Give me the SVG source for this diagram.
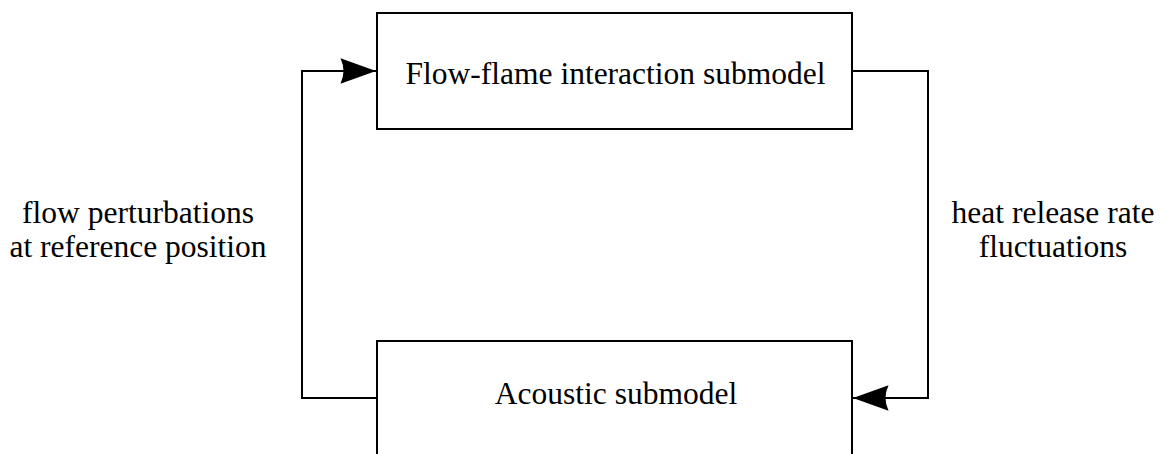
<svg xmlns="http://www.w3.org/2000/svg" width="1162" height="454" viewBox="0 0 1162 454">
  <style>
    .box { fill: #ffffff; stroke: #000000; stroke-width: 2; }
    .wire { fill: none; stroke: #000000; stroke-width: 2; }
    .lbl { font-family: "Liberation Serif", "Times New Roman", serif; font-size: 31.5px; fill: #000000; text-anchor: middle; }
  </style>
  <defs>
    <!-- filled arrowhead with a slightly hollowed back -->
    <marker id="head" markerUnits="userSpaceOnUse" markerWidth="40" markerHeight="30" viewBox="-34 -13 36 26" refX="0" refY="0" orient="auto">
      <path d="M 0 0 L -32 -11.5 Q -26.5 0 -32 11.5 Z" fill="#000000"/>
    </marker>
  </defs>
  <rect width="1162" height="454" fill="#ffffff"/>

  <g id="connectors">
    <path class="wire" d="M 377 398 H 302 V 71 H 376" marker-end="url(#head)"/>
    <path class="wire" d="M 852 71 H 928 V 398 H 853" marker-end="url(#head)"/>
  </g>

  <g id="flow-flame">
    <rect class="box" x="377" y="13" width="475" height="116"/>
    <text class="lbl" x="615.5" y="84">Flow-flame interaction submodel</text>
  </g>

  <g id="acoustic">
    <rect class="box" x="377" y="341" width="475" height="130"/>
    <text class="lbl" x="616" y="404">Acoustic submodel</text>
  </g>

  <g id="label-flow">
    <text class="lbl" x="138" y="223">flow perturbations</text>
    <text class="lbl" x="138" y="257">at reference position</text>
  </g>

  <g id="label-heat">
    <text class="lbl" x="1053" y="223">heat release rate</text>
    <text class="lbl" x="1053" y="257">fluctuations</text>
  </g>
</svg>
